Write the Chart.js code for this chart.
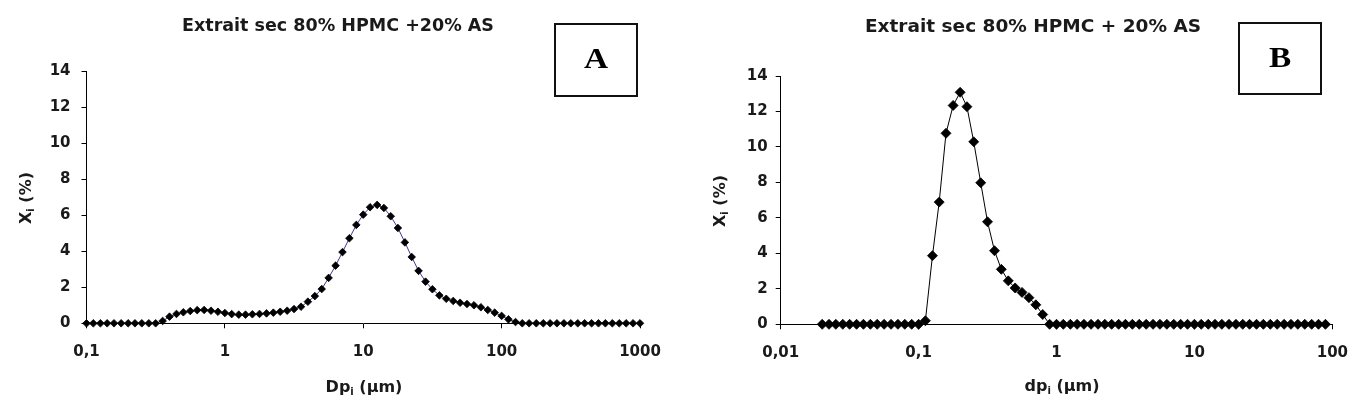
<!DOCTYPE html>
<html>
<head>
<meta charset="utf-8">
<script src="https://cdn.jsdelivr.net/npm/chart.js@4.4.0/dist/chart.umd.min.js"></script>
<style>
  html, body { margin: 0; padding: 0; background: #ffffff; }
  #wrap { position: relative; width: 1363px; height: 409px; overflow: hidden; background:#fff; }
  canvas { position: absolute; top: 0; }
</style>
</head>
<body>
<div id="wrap">
  <canvas id="chartA" width="681" height="409" style="left:0px;width:681px;height:409px"></canvas>
  <canvas id="chartB" width="682" height="409" style="left:681px;width:682px;height:409px"></canvas>
</div>
<script>
// ---------- DATA ----------
// Chart A : Dp_i (µm) and X_i (%)
const dpA = [0.1,0.112,0.126,0.141,0.158,0.178,0.2,0.224,0.251,0.282,0.316,0.355,0.398,0.447,0.501,0.562,0.631,0.708,0.794,0.891,
  1,1.12,1.26,1.41,1.58,1.78,2,2.24,2.51,2.82,3.16,3.55,3.98,4.47,5.01,5.62,6.31,7.08,7.94,8.91,
  10,11.2,12.6,14.1,15.8,17.8,20,22.4,25.1,28.2,31.6,35.5,39.8,44.7,50.1,56.2,63.1,70.8,79.4,89.1,
  100,112,126,141,158,178,200,224,251,282,316,355,398,447,501,562,631,708,794,891,
  1000];
const xiA = [0,0,0,0,0,0,0,0,0,0,0,0.13,0.37,0.52,0.61,0.68,0.73,0.74,0.70,0.64,
  0.57,0.51,0.48,0.48,0.50,0.52,0.55,0.59,0.64,0.70,0.79,0.92,1.20,1.51,1.90,2.52,3.20,3.95,4.72,5.46,
  6.03,6.44,6.57,6.40,5.94,5.29,4.49,3.68,2.91,2.31,1.89,1.55,1.36,1.24,1.14,1.07,1.00,0.89,0.74,0.59,
  0.41,0.22,0.07,0,0,0,0,0,0,0,0,0,0,0,0,0,0,0,0,0,
  0];
// Chart B : dp_i (µm) and X_i (%)
const dpB = [0.02,0.0224,0.0251,0.0282,0.0316,0.0355,0.0398,0.0447,0.0501,0.0562,0.0631,0.0708,0.0794,0.0891,
  0.1,0.112,0.126,0.141,0.158,0.178,0.2,0.224,0.251,0.282,0.316,0.355,0.398,0.447,0.501,0.562,0.631,0.708,0.794,0.891,
  1,1.12,1.26,1.41,1.58,1.78,2,2.24,2.51,2.82,3.16,3.55,3.98,4.47,5.01,5.62,6.31,7.08,7.94,8.91,
  10,11.2,12.6,14.1,15.8,17.8,20,22.4,25.1,28.2,31.6,35.5,39.8,44.7,50.1,56.2,63.1,70.8,79.4,89.1];
const xiB = [0,0,0,0,0,0,0,0,0,0,0,0,0,0,
  0,0.20,3.87,6.89,10.77,12.34,13.08,12.27,10.29,7.98,5.78,4.15,3.10,2.45,2.05,1.80,1.50,1.10,0.55,0,
  0,0,0,0,0,0,0,0,0,0,0,0,0,0,0,0,0,0,0,0,
  0,0,0,0,0,0,0,0,0,0,0,0,0,0,0,0,0,0,0,0];

const yTicks = [0,2,4,6,8,10,12,14];
const xTicksA = [0.1,1,10,100,1000];
const xTickLabelsA = ['0,1','1','10','100','1000'];
const xTicksB = [0.01,0.1,1,10,100];
const xTickLabelsB = ['0,01','0,1','1','10','100'];

const titleA = 'Extrait sec 80% HPMC +20% AS';
const titleB = 'Extrait sec 80% HPMC + 20% AS';
const xTitleA = [['Dp', false], ['i', true], [' (µm)', false]];
const xTitleB = [['dp', false], ['i', true], [' (µm)', false]];
const yTitle = [['X', false], ['i', true], [' (%)', false]];

// ---------- DRAWING ----------
const SANS = '"DejaVu Sans", "Liberation Sans", Arial, sans-serif';

function drawParts(ctx, parts, cx, cy, size) {
  const subSize = Math.round(size * 0.62);
  let total = 0;
  const widths = parts.map(([t, sub]) => {
    ctx.font = 'bold ' + (sub ? subSize : size) + 'px ' + SANS;
    const w = ctx.measureText(t).width;
    total += w;
    return w;
  });
  let x = cx - total / 2;
  ctx.textBaseline = 'middle';
  ctx.textAlign = 'left';
  parts.forEach(([t, sub], i) => {
    ctx.font = 'bold ' + (sub ? subSize : size) + 'px ' + SANS;
    ctx.fillText(t, x, cy + (sub ? size * 0.3 : 0));
    x += widths[i];
  });
}

const textPlugin = {
  id: 'texts',
  afterDraw(chart, args, o) {
    const ctx = chart.ctx;
    ctx.save();
    ctx.fillStyle = '#1a1a1a';
    // title
    ctx.font = 'bold ' + o.titleSize + 'px ' + SANS;
    ctx.textAlign = 'center';
    ctx.textBaseline = 'alphabetic';
    ctx.fillText(o.title, o.titleX, o.titleY);
    // x title
    drawParts(ctx, o.xTitle, o.xTitleX, o.xTitleY, 16);
    // y title (rotated)
    ctx.save();
    ctx.translate(o.yTitleX, o.yTitleY);
    ctx.rotate(-Math.PI / 2);
    drawParts(ctx, yTitle, 0, 0, 16);
    ctx.restore();
    // letter box
    const [bx, by, bw, bh] = o.box;
    ctx.strokeStyle = '#111';
    ctx.lineWidth = 2;
    ctx.strokeRect(bx, by, bw, bh);
    ctx.fillStyle = '#000';
    ctx.save();
    ctx.translate(bx + bw / 2, by + bh / 2 + 1);
    ctx.scale(1.15, 1);
    ctx.font = 'bold 29px "Liberation Serif", "Times New Roman", serif';
    ctx.textAlign = 'center';
    ctx.textBaseline = 'middle';
    ctx.fillText(o.letter, 0, 0);
    ctx.restore();
    ctx.restore();
  }
};

function makeChart(id, xs, ys, xTicks, xLabels, opt) {
  const pts = xs.map((x, i) => ({ x: x, y: ys[i] }));
  const tickFont = { family: SANS, size: 15, weight: 'bold' };
  return new Chart(document.getElementById(id), {
    type: 'line',
    data: {
      datasets: [{
        data: pts,
        borderColor: opt.lineColor,
        borderWidth: 1,
        pointStyle: 'rectRot',
        pointRadius: opt.pointRadius,
        pointBackgroundColor: '#000',
        pointBorderColor: '#000',
        pointBorderWidth: 0.8,
        tension: 0,
        clip: false
      }]
    },
    plugins: [textPlugin],
    options: {
      responsive: false,
      animation: false,
      devicePixelRatio: 1,
      layout: { padding: { left: 0, top: opt.top, right: opt.padRight, bottom: 0 } },
      plugins: {
        legend: { display: false },
        tooltip: { enabled: false },
        texts: opt.texts
      },
      scales: {
        x: {
          type: 'logarithmic',
          min: xTicks[0],
          max: xTicks[xTicks.length - 1],
          afterBuildTicks: s => { s.ticks = xTicks.map(v => ({ value: v })); },
          afterFit: s => { s.height = opt.xHeight; },
          ticks: {
            autoSkip: false, maxRotation: 0, padding: opt.xPad,
            color: '#1a1a1a', font: tickFont,
            callback: (v, i) => xLabels[i]
          },
          grid: { display: true, drawOnChartArea: false, drawTicks: true, tickLength: 5, color: '#000', lineWidth: 1 },
          border: { display: true, color: '#000', width: 1 }
        },
        y: {
          type: 'linear',
          min: 0, max: 14,
          afterBuildTicks: s => { s.ticks = yTicks.map(v => ({ value: v })); },
          afterFit: s => { s.width = opt.yWidth; },
          ticks: {
            padding: opt.yPad, color: '#1a1a1a', font: tickFont,
            callback: v => String(v)
          },
          grid: { display: true, drawOnChartArea: false, drawTicks: true, tickLength: 5, color: '#000', lineWidth: 1 },
          border: { display: true, color: '#000', width: 1 }
        }
      }
    }
  });
}

makeChart('chartA', dpA, xiA, xTicksA, xTickLabelsA, {
  lineColor: '#3a3a9c', pointRadius: 3.8,
  top: 71, padRight: 41, yWidth: 86.5, xHeight: 409 - 323.3, xPad: 15, yPad: 11,
  texts: {
    title: titleA, titleX: 338, titleY: 31, titleSize: 17.5,
    xTitle: xTitleA, xTitleX: 364, xTitleY: 388,
    yTitleX: 27, yTitleY: 198,
    box: [555, 24, 82, 72], letter: 'A'
  }
});

makeChart('chartB', dpB, xiB, xTicksB, xTickLabelsB, {
  lineColor: '#000', pointRadius: 5,
  top: 76, padRight: 22, yWidth: 99.7, xHeight: 409 - 324.3, xPad: 15, yPad: 8,
  texts: {
    title: titleB, titleX: 352, titleY: 32, titleSize: 18.5,
    xTitle: xTitleB, xTitleX: 381, xTitleY: 387,
    yTitleX: 40, yTitleY: 201,
    box: [558, 23, 82, 71], letter: 'B'
  }
});
</script>
</body>
</html>
